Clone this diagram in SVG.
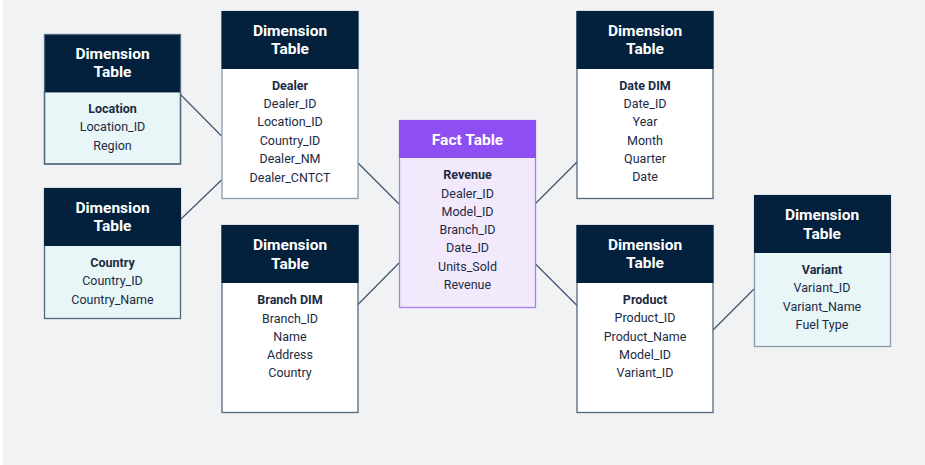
<svg xmlns="http://www.w3.org/2000/svg" width="925" height="465" viewBox="0 0 925 465">
<style>
.hd{fill:#03213d;}
.bd{stroke:#52687f;stroke-width:1.3;}
.lt{stroke:#8a9bae;}
.w{fill:#ffffff;}
.c{fill:#e9f6f7;}
.ht{font-family:Roboto,"Liberation Sans",sans-serif;font-size:15.5px;font-weight:bold;fill:#ffffff;text-anchor:middle;}
.tt{font-family:Roboto,"Liberation Sans",sans-serif;font-size:12.5px;fill:#1b2b44;text-anchor:middle;}
.b{font-weight:bold;}
.ln{stroke:#3f5570;stroke-width:1.2;fill:none;}
</style>
<rect x="3" y="0" width="922" height="465" fill="#f1f2f4"/>
<g id="connectors">
<line class="ln" x1="180.5" y1="94.5" x2="221.5" y2="136"/>
<line class="ln" x1="180.5" y1="219.5" x2="221.5" y2="180"/>
<line class="ln" x1="358" y1="163" x2="399" y2="204"/>
<line class="ln" x1="358" y1="304.5" x2="399" y2="263"/>
<line class="ln" x1="535.5" y1="203.5" x2="577" y2="162"/>
<line class="ln" x1="535.5" y1="264" x2="577" y2="305.5"/>
<line class="ln" x1="713" y1="330" x2="754" y2="289"/>
</g>
<g id="location">
<rect class="c bd" x="44.5" y="92" width="136" height="72"/>
<rect class="hd" x="44" y="34" width="137" height="58"/>
<rect x="44.5" y="34.5" width="136" height="129.5" fill="none" class="bd"/>
<text class="ht" x="112.5" y="58.8">Dimension</text>
<text class="ht" x="112.5" y="77.2">Table</text>
<text class="tt b" x="112.5" y="113.1">Location</text>
<text class="tt" x="112.5" y="131.4">Location_ID</text>
<text class="tt" x="112.5" y="149.7">Region</text>
</g>
<g id="dealer">
<rect class="w bd lt" x="222" y="11.5" width="136" height="187"/>
<rect class="hd" x="221.5" y="11" width="137" height="58"/>
<text class="ht" x="290" y="35.8">Dimension</text>
<text class="ht" x="290" y="54.2">Table</text>
<text class="tt b" x="290" y="89.7">Dealer</text>
<text class="tt" x="290" y="108.1">Dealer_ID</text>
<text class="tt" x="290" y="126.4">Location_ID</text>
<text class="tt" x="290" y="144.8">Country_ID</text>
<text class="tt" x="290" y="163.2">Dealer_NM</text>
<text class="tt" x="290" y="181.6">Dealer_CNTCT</text>
</g>
<g id="country">
<rect class="c bd" x="44.5" y="188.5" width="136" height="130"/>
<rect class="hd" x="44" y="188" width="137" height="58"/>
<text class="ht" x="112.5" y="212.8">Dimension</text>
<text class="ht" x="112.5" y="231.2">Table</text>
<text class="tt b" x="112.5" y="267.1">Country</text>
<text class="tt" x="112.5" y="285.4">Country_ID</text>
<text class="tt" x="112.5" y="303.6">Country_Name</text>
</g>
<g id="branch">
<rect class="w bd" x="222" y="225.5" width="136" height="187"/>
<rect class="hd" x="221.5" y="225" width="137" height="58"/>
<text class="ht" x="290" y="250.2">Dimension</text>
<text class="ht" x="290" y="268.5">Table</text>
<text class="tt b" x="290" y="304.4">Branch DIM</text>
<text class="tt" x="290" y="322.6">Branch_ID</text>
<text class="tt" x="290" y="340.8">Name</text>
<text class="tt" x="290" y="359.1">Address</text>
<text class="tt" x="290" y="377.4">Country</text>
</g>
<g id="fact">
<rect x="399.5" y="120.5" width="136" height="187" fill="#f2e9fd" stroke="#a77ef1" stroke-width="1.3"/>
<rect x="399" y="120" width="137" height="38" fill="#8d4ef2"/>
<text class="ht" x="467.5" y="145.2">Fact Table</text>
<text class="tt b" x="467.5" y="179.1">Revenue</text>
<text class="tt" x="467.5" y="198.1">Dealer_ID</text>
<text class="tt" x="467.5" y="216.1">Model_ID</text>
<text class="tt" x="467.5" y="234.1">Branch_ID</text>
<text class="tt" x="467.5" y="252.4">Date_ID</text>
<text class="tt" x="467.5" y="270.7">Units_Sold</text>
<text class="tt" x="467.5" y="289.1">Revenue</text>
</g>
<g id="date">
<rect class="w bd" x="577" y="11.5" width="136" height="187"/>
<rect class="hd" x="576.5" y="11" width="137" height="58"/>
<text class="ht" x="645" y="35.8">Dimension</text>
<text class="ht" x="645" y="54.2">Table</text>
<text class="tt b" x="645" y="89.7">Date DIM</text>
<text class="tt" x="645" y="108.1">Date_ID</text>
<text class="tt" x="645" y="126.4">Year</text>
<text class="tt" x="645" y="144.7">Month</text>
<text class="tt" x="645" y="163.1">Quarter</text>
<text class="tt" x="645" y="181.4">Date</text>
</g>
<g id="product">
<rect class="w bd" x="577" y="225.5" width="136" height="187"/>
<rect class="hd" x="576.5" y="225" width="137" height="58"/>
<text class="ht" x="645" y="249.8">Dimension</text>
<text class="ht" x="645" y="268.2">Table</text>
<text class="tt b" x="645" y="304.1">Product</text>
<text class="tt" x="645" y="322.4">Product_ID</text>
<text class="tt" x="645" y="340.7">Product_Name</text>
<text class="tt" x="645" y="359.1">Model_ID</text>
<text class="tt" x="645" y="377.4">Variant_ID</text>
</g>
<g id="variant">
<rect class="c bd lt" x="754.5" y="195.5" width="136" height="151"/>
<rect class="hd" x="754" y="195" width="137" height="58"/>
<text class="ht" x="822" y="220.2">Dimension</text>
<text class="ht" x="822" y="238.5">Table</text>
<text class="tt b" x="822" y="274.1">Variant</text>
<text class="tt" x="822" y="292.4">Variant_ID</text>
<text class="tt" x="822" y="310.7">Variant_Name</text>
<text class="tt" x="822" y="329.1">Fuel Type</text>
</g>
</svg>
